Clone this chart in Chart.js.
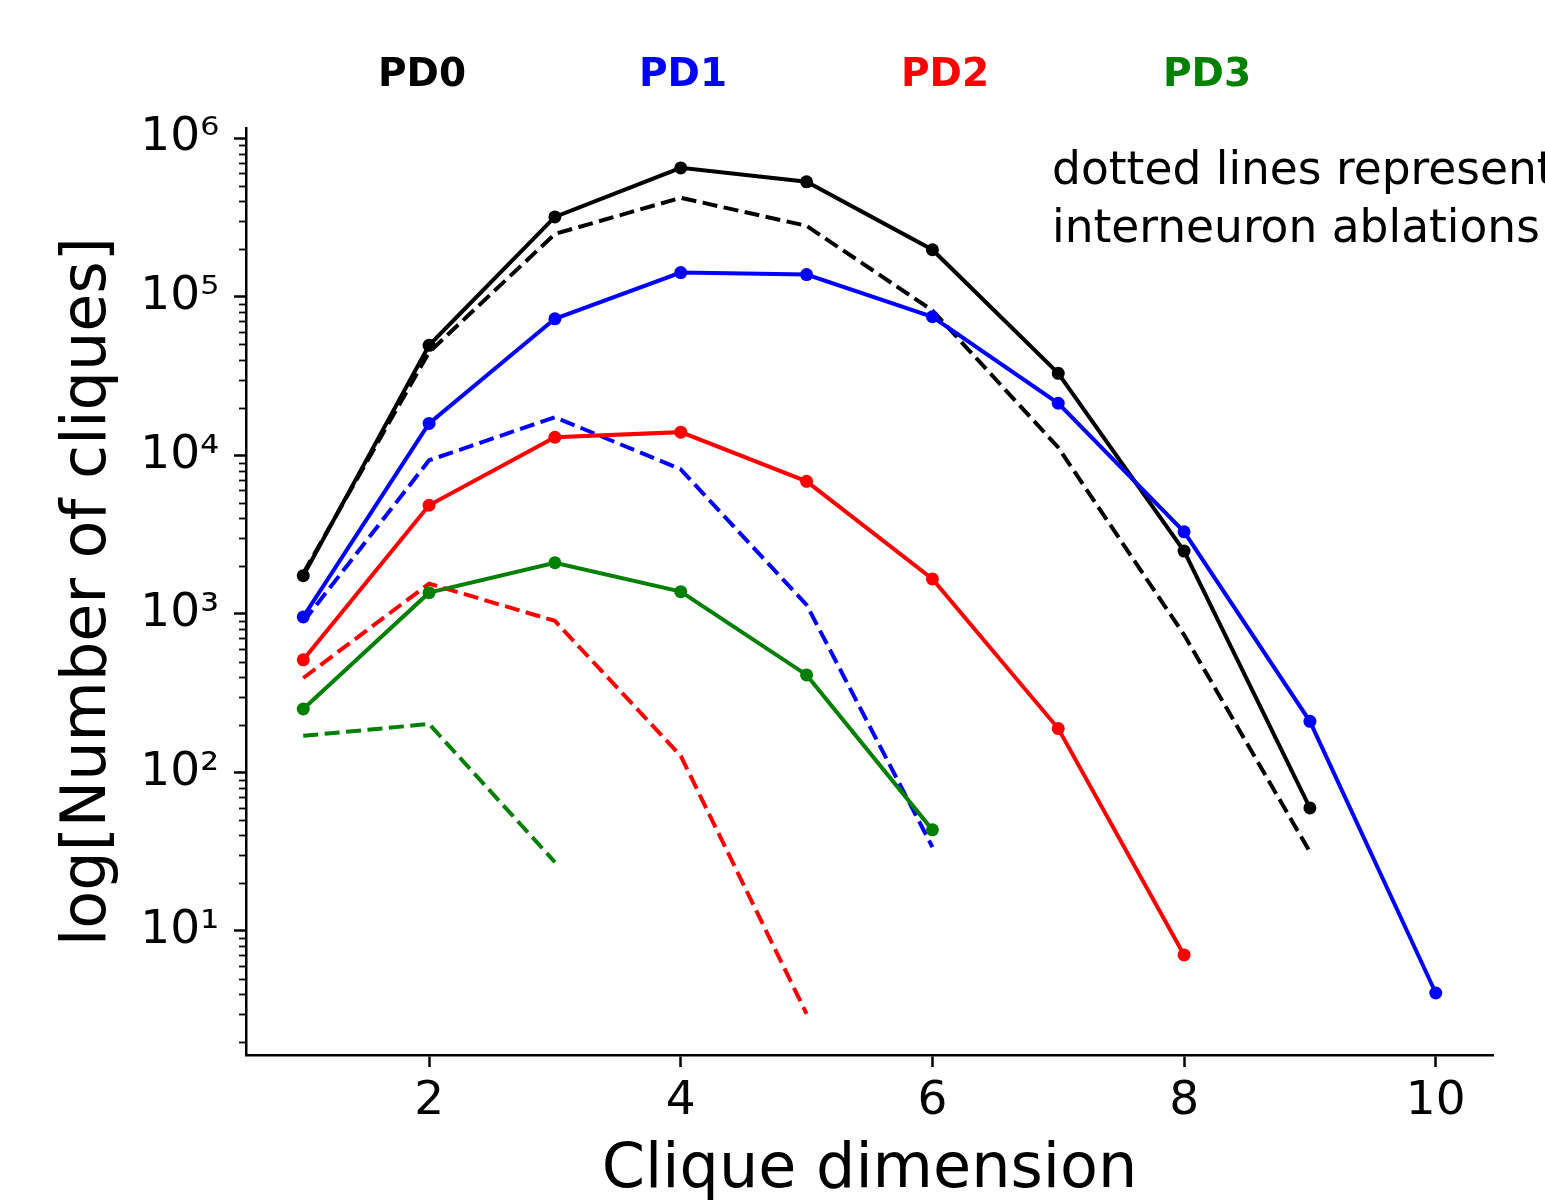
<!DOCTYPE html>
<html>
<head>
<meta charset="utf-8">
<script src="https://cdn.jsdelivr.net/npm/chart.js@4.4.1/dist/chart.umd.min.js"></script>
<style>
  html, body { margin: 0; padding: 0; background: #fff; overflow: hidden; }
  #wrap { position: relative; width: 1545px; height: 1203px; }
  #cliqueChart { position: absolute; left: 0; top: 0; }
  .pd-title {
    position: absolute; top: 72px; transform: translate(-50%, -50%);
    font-family: 'DejaVu Sans', sans-serif; font-weight: bold; font-size: 39px;
  }
  .note {
    position: absolute; left: 1052px; top: 140px; white-space: nowrap;
    font-family: 'DejaVu Sans', sans-serif; font-size: 45.5px; line-height: 58px; color: #000;
  }
</style>
</head>
<body>
<div id="wrap">
  <canvas id="cliqueChart" width="1545" height="1203"></canvas>
  <span class="pd-title" style="left:422px;color:#000000">PD0</span>
  <span class="pd-title" style="left:683px;color:#0000ff">PD1</span>
  <span class="pd-title" style="left:945px;color:#ff0000">PD2</span>
  <span class="pd-title" style="left:1207px;color:#008000">PD3</span>
  <div class="note">dotted lines represent<br>interneuron ablations</div>
</div>
<script>
// clique counts per dimension
const cliqueDims = [1, 2, 3, 4, 5, 6, 7, 8, 9, 10];

const pd0Control = [1740, 49400, 319000, 650000, 531000, 198000, 32900, 2490, 59.7];
const pd0Ablated = [1800, 44700, 249000, 421000, 280000, 82000, 11200, 738, 31.5];
const pd1Control = [956, 15900, 72600, 142000, 138000, 74800, 21300, 3290, 210, 4.06];
const pd1Ablated = [890, 9300, 17400, 8160, 1140, 33.8];
const pd2Control = [513, 4840, 13000, 14000, 6850, 1660, 189, 7.06];
const pd2Ablated = [394, 1550, 903, 127, 3.0];
const pd3Control = [251, 1360, 2100, 1380, 412, 43.4];
const pd3Ablated = [170, 202, 27.2];

const xTickValues = [2, 4, 6, 8, 10];
const yTickValues = [10, 100, 1000, 10000, 100000, 1000000];

const SUPERSCRIPTS = ['⁰', '¹', '²', '³', '⁴', '⁵', '⁶', '⁷', '⁸', '⁹'];

function toPoints(values) {
  return values.map((v, i) => ({ x: cliqueDims[i], y: v }));
}

function series(values, color, dashed, order) {
  return {
    data: toPoints(values),
    borderColor: color,
    backgroundColor: color,
    borderWidth: 4,
    borderDash: dashed ? [15, 6.5] : [],
    pointRadius: dashed ? 0 : 6.5,
    pointHoverRadius: dashed ? 0 : 6.5,
    pointBorderWidth: 0,
    pointBackgroundColor: color,
    tension: 0,
    fill: false,
    order,
  };
}

/* minor log ticks on the y axis */
const minorTicks = {
  id: 'minorTicks',
  afterDraw(chart) {
    const y = chart.scales.y;
    const ctx = chart.ctx;
    ctx.save();
    ctx.strokeStyle = '#000';
    ctx.lineWidth = 1.8;
    for (let e = 0; e <= 6; e++) {
      for (let m = 2; m <= 9; m++) {
        const v = m * Math.pow(10, e);
        if (v < y.min || v > y.max) continue;
        const py = Math.round(y.getPixelForValue(v)) + 0.5;
        ctx.beginPath();
        ctx.moveTo(y.right - 7, py);
        ctx.lineTo(y.right, py);
        ctx.stroke();
      }
    }
    ctx.restore();
  },
};

const tickFont = { family: 'DejaVu Sans', size: 47 };
const titleFont = { family: 'DejaVu Sans', size: 62 };

new Chart(document.getElementById('cliqueChart'), {
  type: 'line',
  data: {
    datasets: [
      series(pd0Control, '#000000', false, 8),
      series(pd0Ablated, '#000000', true, 7),
      series(pd1Control, '#0000ff', false, 6),
      series(pd1Ablated, '#0000ff', true, 5),
      series(pd2Control, '#ff0000', false, 4),
      series(pd2Ablated, '#ff0000', true, 3),
      series(pd3Control, '#008000', false, 2),
      series(pd3Ablated, '#008000', true, 1),
    ],
  },
  options: {
    responsive: false,
    animation: false,
    layout: { padding: { left: 0, top: 128, right: 52, bottom: 0 } },
    plugins: {
      legend: { display: false },
      tooltip: { enabled: false },
    },
    scales: {
      x: {
        type: 'linear',
        min: 0.545,
        max: 10.455,
        afterBuildTicks: (scale) => { scale.ticks = xTickValues.map((v) => ({ value: v })); },
        afterFit: (scale) => { scale.height = 148; },
        grid: { drawOnChartArea: false, drawTicks: true, tickLength: 12, tickWidth: 2.5, tickColor: '#000' },
        border: { display: true, color: '#000', width: 2.5 },
        ticks: { color: '#000', font: tickFont, padding: 7, maxRotation: 0, callback: (v) => String(v) },
        title: { display: true, text: 'Clique dimension', color: '#000', font: titleFont, padding: { top: 0, bottom: -5 } },
      },
      y: {
        type: 'logarithmic',
        min: 1.65,
        max: 1160000,
        afterBuildTicks: (scale) => { scale.ticks = yTickValues.map((v) => ({ value: v })); },
        afterFit: (scale) => { scale.width = 246; },
        grid: { drawOnChartArea: false, drawTicks: true, tickLength: 12, tickWidth: 2.5, tickColor: '#000' },
        border: { display: true, color: '#000', width: 2.5 },
        ticks: {
          color: '#000',
          font: tickFont,
          padding: 15,
          callback: (v) => '10' + SUPERSCRIPTS[Math.round(Math.log10(v))],
        },
        title: { display: true, text: 'log[Number of cliques]', color: '#000', font: titleFont, padding: { top: 52, bottom: 0 } },
      },
    },
  },
  plugins: [minorTicks],
});
</script>
</body>
</html>
